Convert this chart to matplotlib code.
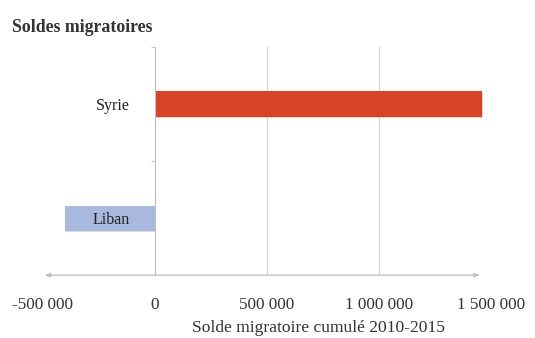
import matplotlib.pyplot as plt
from matplotlib import patheffects as pe

# Données
pays = ["Liban", "Syrie"]
solde = [-402000, 1460000]
couleurs = ["#A8B8DF", "#D64426"]
ticks_x = [-500000, 0, 500000, 1000000, 1500000]
labels_x = ["-500 000", "0", "500 000", "1 000 000", "1 500 000"]

plt.rcParams['font.family'] = ['Liberation Serif', 'DejaVu Serif']

fig = plt.figure(figsize=(5.35, 3.38), dpi=100)
ax = fig.add_axes([0.080, 0.186, 0.837, 0.675])
ax.set_axisbelow(False)

ombre = [pe.SimplePatchShadow(offset=(1.2, -1.2), shadow_rgbFace='#999999', alpha=0.35), pe.Normal()]
barres = ax.barh(pays, solde, height=0.22, color=couleurs, zorder=1)
for b in barres:
    b.set_path_effects(ombre)

ax.set_xlim(-500000, 1500000)
ax.set_ylim(-0.5, 1.5)
ax.set_xticks(ticks_x)
ax.set_xticklabels(labels_x, fontsize=12.3, color='#333333')
ax.tick_params(axis='x', length=0, pad=16)

# axe vertical au niveau de zéro
ax.spines['left'].set_position(('data', 0))
ax.spines['left'].set_color('#BFBFBF')
for s in ['top', 'right', 'bottom']:
    ax.spines[s].set_visible(False)
ax.tick_params(axis='y', length=0, pad=18, labelsize=11.5, labelcolor='#222222')
ax.set_yticks([-0.5, 0.5, 1.5], minor=True)
ax.tick_params(axis='y', which='minor', length=3, color='#BFBFBF')

# quadrillage vertical
for v in ticks_x[2:-1]:
    ax.axvline(v, color='#D9D9D9', lw=0.9, zorder=0)

# axe horizontal avec flèches
ax.annotate('', xy=(1451000, -0.5), xytext=(-491000, -0.5),
            arrowprops=dict(arrowstyle='<|-|>,head_length=0.3,head_width=0.12',
                            color='#BFBFBF', lw=0.9, shrinkA=0, shrinkB=0),
            annotation_clip=False)

ax.set_xlabel('Solde migratoire cumulé 2010-2015', fontsize=12.6, color='#333333')
ax.xaxis.set_label_coords(0.616, -0.195)
fig.text(0.022, 0.905, 'Soldes migratoires', fontsize=12.8, fontweight='bold', color='#333333')

fig.savefig('out.png', dpi=100)
